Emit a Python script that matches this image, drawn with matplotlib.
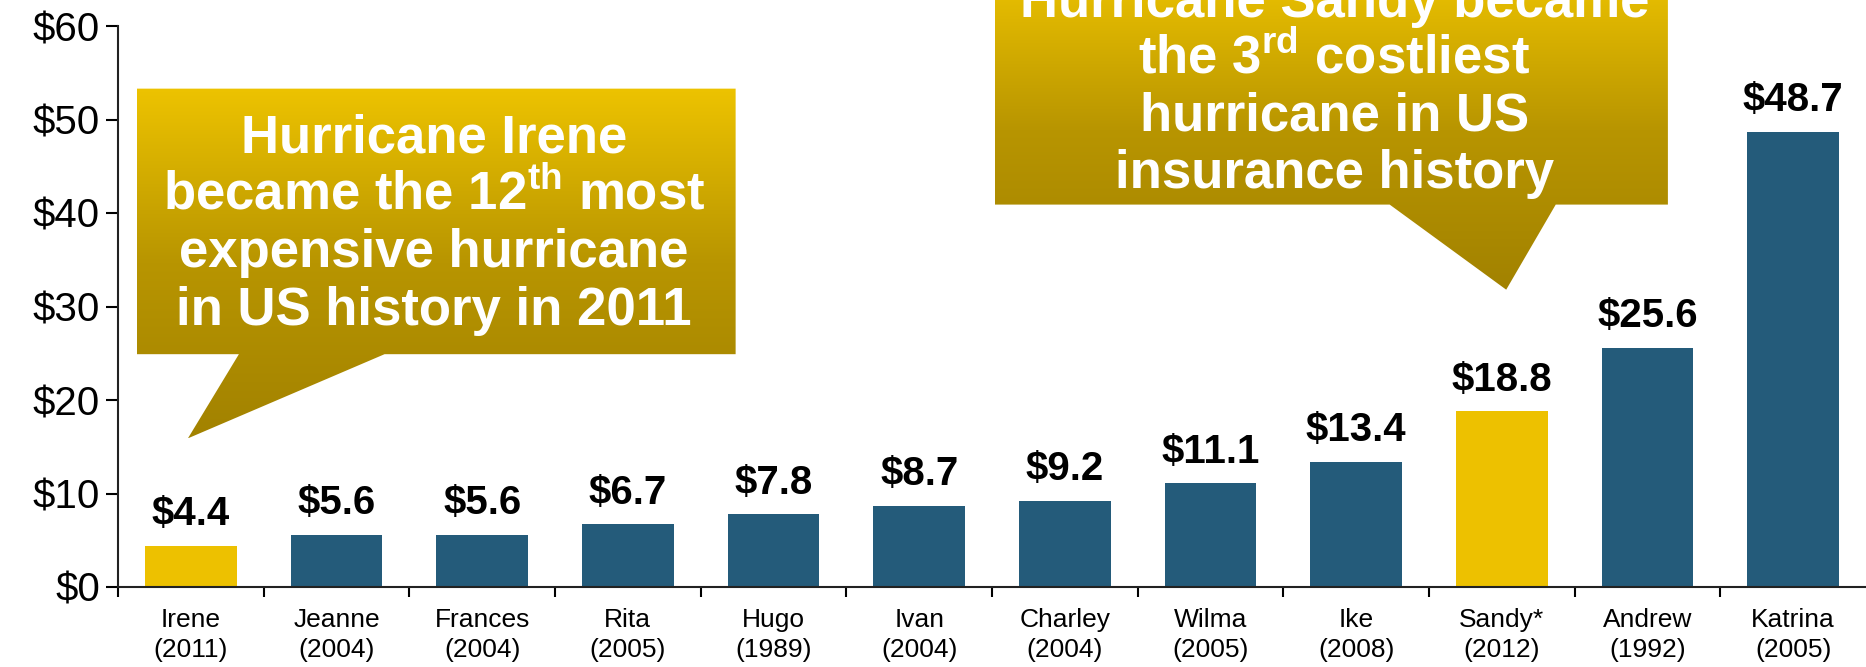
import numpy as np
import matplotlib.pyplot as plt
from matplotlib.patches import Polygon
from matplotlib.colors import LinearSegmentedColormap

plt.rcParams["font.family"] = ["Liberation Sans", "DejaVu Sans"]
plt.rcParams["mathtext.fontset"] = "custom"
plt.rcParams["mathtext.bf"] = "Liberation Sans:bold"
plt.rcParams["mathtext.rm"] = "Liberation Sans:bold"

# insured losses, $ billions
storms = ["Irene", "Jeanne", "Frances", "Rita", "Hugo", "Ivan",
          "Charley", "Wilma", "Ike", "Sandy*", "Andrew", "Katrina"]
years = ["2011", "2004", "2004", "2005", "1989", "2004",
         "2004", "2005", "2008", "2012", "1992", "2005"]
losses = [4.4, 5.6, 5.6, 6.7, 7.8, 8.7, 9.2, 11.1, 13.4, 18.8, 25.6, 48.7]
highlight = ["Irene", "Sandy*"]

irene_lines = ["Hurricane Irene",
               r"became the 12$^{\mathbf{th}}$ most",
               "expensive hurricane",
               "in US history in 2011"]
sandy_lines = ["Hurricane Sandy became",
               r"the 3$^{\mathbf{rd}}$ costliest",
               "hurricane in US",
               "insurance history"]

BLUE = "#245B7A"
GOLD = "#EDC100"

fig = plt.figure(figsize=(18.66, 6.67), dpi=100)
ax = fig.add_axes([118 / 1866, 80 / 667, 1 - 118 / 1866, 561 / 667])

x = np.arange(len(storms))
colors = [GOLD if s in highlight else BLUE for s in storms]
ax.bar(x, losses, width=0.63, color=colors, zorder=2)

for xi, v in zip(x, losses):
    ax.annotate(f"${v:.1f}", (xi, v), xytext=(0, 9), textcoords="offset points",
                ha="center", va="bottom", fontsize=29, fontweight="bold")

ax.set_xlim(-0.5, 11.5)
ax.set_ylim(0, 60)
ax.set_yticks(range(0, 61, 10))
ax.set_yticklabels([f"${t}" for t in range(0, 61, 10)], fontsize=29)
ax.tick_params(axis="y", length=9, width=1.5, pad=4)

ax.set_xticks(np.arange(-0.5, 11, 1))
ax.set_xticklabels([])
ax.tick_params(axis="x", which="major", length=7, width=1.5)
ax.set_xticks(x, minor=True)
ax.set_xticklabels([f"{s}\n({y})" for s, y in zip(storms, years)], minor=True,
                   fontsize=19, linespacing=1.3)
ax.tick_params(axis="x", which="minor", length=0, pad=15)

for sp in ["top", "right"]:
    ax.spines[sp].set_visible(False)
for sp in ["left", "bottom"]:
    ax.spines[sp].set_linewidth(1.5)
    ax.spines[sp].set_color("#222222")

grad = LinearSegmentedColormap.from_list("g", ["#A28200", "#B89500", "#EDC300"])


def callout(left, right, bottom, top, base_l, base_r, tip_x, tip_y, lines, cx, baselines):
    verts = [(left, top), (right, top), (right, bottom), (base_r, bottom),
             (tip_x, tip_y), (base_l, bottom), (left, bottom)]
    poly = Polygon(verts, closed=True, facecolor="none", edgecolor="none",
                   transform=ax.transData)
    ax.add_patch(poly)
    im = ax.imshow(np.linspace(0, 1, 256).reshape(-1, 1), cmap=grad, origin="lower",
                   extent=[left, right, tip_y, top], aspect="auto", zorder=3)
    im.set_clip_box(fig.bbox)
    im.set_clip_path(poly)
    for txt, yb in zip(lines, baselines):
        ax.text(cx, yb, txt, ha="center", va="baseline", color="white",
                fontsize=38, fontweight="bold", zorder=4)


callout(-0.37, 3.74, 24.9, 53.3, 0.33, 1.33, -0.02, 15.9,
        irene_lines, 1.67, [46.5, 40.4, 34.2, 28.0])
callout(5.52, 10.14, 40.9, 66.0, 8.23, 9.37, 9.03, 31.8,
        sandy_lines, 7.85, [61.0, 54.9, 48.8, 42.7])

ax.set_xlim(-0.5, 11.5)
ax.set_ylim(0, 60)

fig.savefig("out.png", dpi=100)
